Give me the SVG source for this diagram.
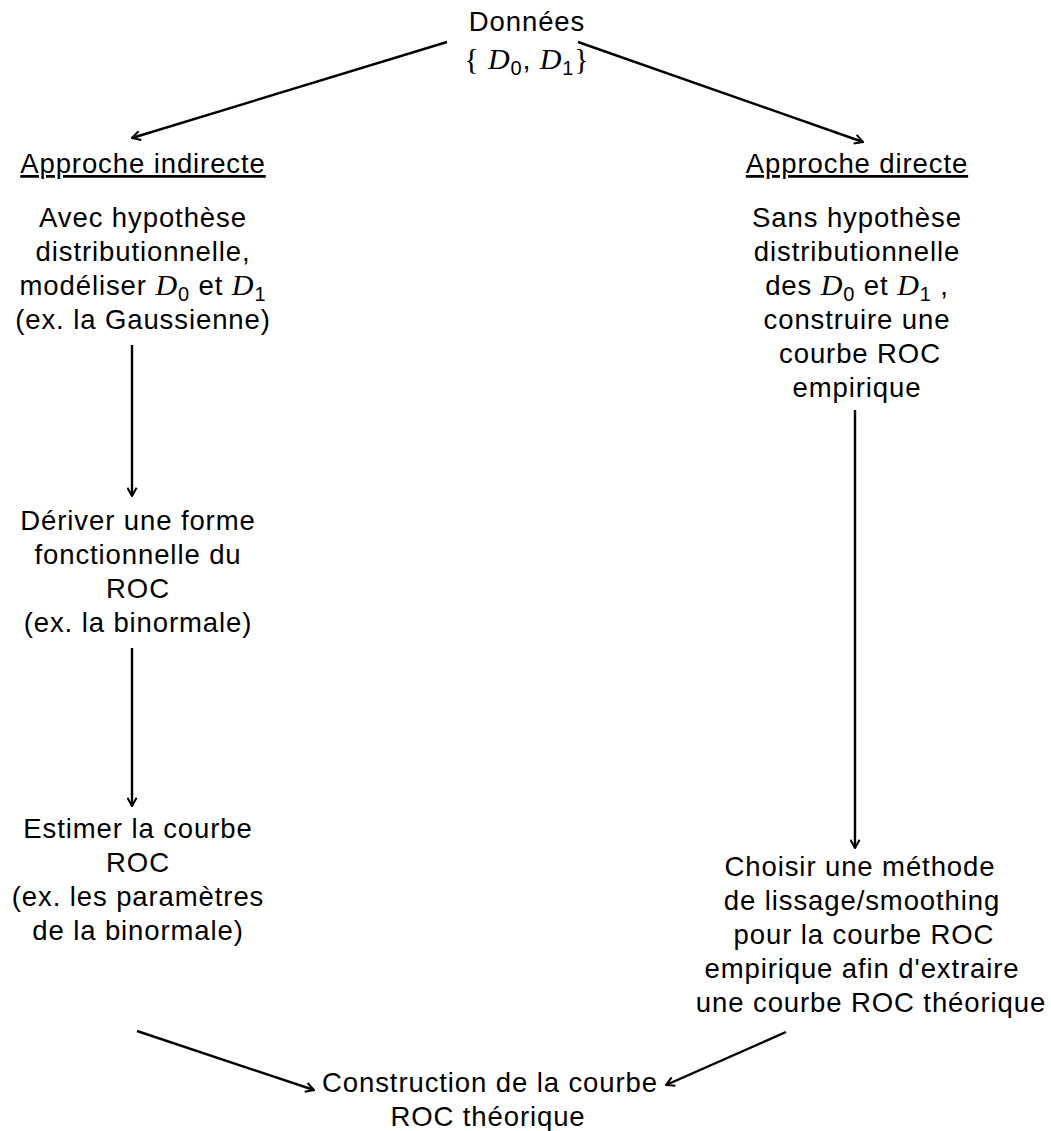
<svg xmlns="http://www.w3.org/2000/svg" width="1051" height="1131" viewBox="0 0 1051 1131">
<defs>
<style>
text{font-family:"Liberation Sans",Arial,sans-serif;font-size:27.5px;letter-spacing:0.9px;fill:#000;text-anchor:middle}
.u{text-decoration:underline}
.m{font-family:"Liberation Serif","Times New Roman",serif;font-style:italic;font-size:30px}
.s{font-size:20px}
.b{font-family:"Liberation Serif","Times New Roman",serif;font-size:30px}
.c line{stroke:#000;stroke-width:2.4;fill:none;marker-end:url(#ah)}
</style>
<marker id="ah" viewBox="0 0 12 12" refX="11" refY="6" markerWidth="11" markerHeight="11" markerUnits="userSpaceOnUse" orient="auto">
<path d="M2,1 L11,6 L2,11" fill="none" stroke="#000" stroke-width="2.2"/>
</marker>
</defs>
<rect width="1051" height="1131" fill="#fff"/>
<g id="donnees">
<text x="527" y="31">Données</text>
<text x="527" y="69"><tspan class="b">{ </tspan><tspan class="m">D</tspan><tspan class="s" dy="6">0</tspan><tspan dy="-6">, </tspan><tspan class="m">D</tspan><tspan class="s" dy="6">1</tspan><tspan class="b" dy="-6">}</tspan></text>
</g>
<g id="indirecte">
<text x="143" y="173" class="u">Approche indirecte</text>
</g>
<g id="avec">
<text x="143" y="227">Avec hypothèse</text>
<text x="143" y="261">distributionnelle,</text>
<text x="143" y="295">modéliser <tspan class="m">D</tspan><tspan class="s" dy="6">0</tspan><tspan dy="-6"> et </tspan><tspan class="m">D</tspan><tspan class="s" dy="6">1</tspan></text>
<text x="143" y="329">(ex. la Gaussienne)</text>
</g>
<g id="deriver">
<text x="138" y="530">Dériver une forme</text>
<text x="138" y="564">fonctionnelle du</text>
<text x="138" y="598">ROC</text>
<text x="138" y="632">(ex. la binormale)</text>
</g>
<g id="estimer">
<text x="138" y="838">Estimer la courbe</text>
<text x="138" y="872">ROC</text>
<text x="138" y="906">(ex. les paramètres</text>
<text x="138" y="940">de la binormale)</text>
</g>
<g id="directe">
<text x="857" y="173" class="u">Approche directe</text>
</g>
<g id="sans">
<text x="857" y="227">Sans hypothèse</text>
<text x="857" y="261">distributionnelle</text>
<text x="857" y="295">des <tspan class="m">D</tspan><tspan class="s" dy="6">0</tspan><tspan dy="-6">  et  </tspan><tspan class="m">D</tspan><tspan class="s" dy="6">1</tspan><tspan dy="-6"> ,</tspan></text>
<text x="857" y="329">construire une</text>
<text x="860" y="363">courbe ROC</text>
<text x="857" y="397">empirique</text>
</g>
<g id="choisir">
<text x="860" y="876">Choisir une méthode</text>
<text x="862" y="910">de lissage/smoothing</text>
<text x="864" y="944">pour la courbe ROC</text>
<text x="862" y="978">empirique afin d'extraire</text>
<text x="871" y="1012">une courbe ROC théorique</text>
</g>
<g id="construction">
<text x="490" y="1092">Construction de la courbe</text>
<text x="488" y="1126">ROC théorique</text>
</g>
<g id="connectors" class="c">
<line x1="447" y1="42" x2="132" y2="138"/>
<line x1="578" y1="42" x2="863" y2="142"/>
<line x1="132" y1="345" x2="132" y2="496"/>
<line x1="132" y1="648" x2="132" y2="806"/>
<line x1="855" y1="410" x2="855" y2="848"/>
<line x1="137" y1="1031" x2="314" y2="1090"/>
<line x1="786" y1="1032" x2="666" y2="1085"/>
</g>
</svg>
